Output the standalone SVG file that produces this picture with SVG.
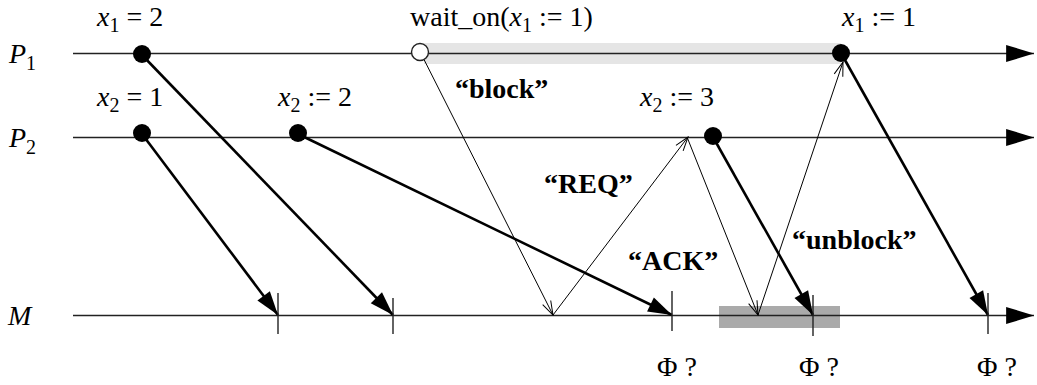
<svg xmlns="http://www.w3.org/2000/svg" width="1037" height="385" viewBox="0 0 1037 385">
  <style>
    .tl { stroke: #222; stroke-width: 1.4; fill: none; }
    .thick { stroke: #000; stroke-width: 2.6; fill: none; }
    .thin { stroke: #000; stroke-width: 1; fill: none; }
    .tick { stroke: #222; stroke-width: 1.4; }
    .dot { fill: #000; }
  </style>
  <defs>
    <marker id="axis" markerUnits="userSpaceOnUse" markerWidth="30" markerHeight="20" viewBox="-27 -9 28 18" refX="0" refY="0" orient="auto">
      <path d="M-26,-8 L0,0 L-26,8 Z" fill="#000"/>
    </marker>
    <marker id="filled" markerUnits="userSpaceOnUse" markerWidth="26" markerHeight="18" viewBox="-24 -8 25 16" refX="0" refY="0" orient="auto">
      <path d="M-23,-7.5 L0,0 L-23,7.5 Z" fill="#000"/>
    </marker>
    <marker id="open" markerUnits="userSpaceOnUse" markerWidth="18" markerHeight="12" viewBox="-16 -6 17 12" refX="0" refY="0" orient="auto">
      <path d="M-14,-4.5 L0,0 L-14,4.5" fill="none" stroke="#000" stroke-width="1"/>
    </marker>
  </defs>

  <g id="bands">
    <rect x="424" y="43" width="417" height="21" fill="#e5e5e5"/>
    <rect x="719" y="306" width="121" height="22" fill="#aaaaaa"/>
  </g>

  <g id="timelines">
    <g id="P1">
      <line class="tl" x1="73" y1="53.5" x2="1034" y2="53.5" marker-end="url(#axis)"/>
      <text x="9" y="63" font-family="Liberation Serif" font-size="28"><tspan font-style="italic">P</tspan><tspan font-size="20" dy="7">1</tspan></text>
    </g>
    <g id="P2">
      <line class="tl" x1="73" y1="137.5" x2="1034" y2="137.5" marker-end="url(#axis)"/>
      <text x="9" y="147" font-family="Liberation Serif" font-size="28"><tspan font-style="italic">P</tspan><tspan font-size="20" dy="7">2</tspan></text>
    </g>
    <g id="M">
      <line class="tl" x1="73" y1="315.5" x2="1034" y2="315.5" marker-end="url(#axis)"/>
      <text x="8" y="325" font-family="Liberation Serif" font-size="28" font-style="italic">M</text>
    </g>
  </g>

  <g id="connectors">
    <line class="thick" x1="142" y1="55" x2="393" y2="315" marker-end="url(#filled)"/>
    <line class="thick" x1="142" y1="134" x2="278" y2="315" marker-end="url(#filled)"/>
    <line class="thick" x1="298" y1="134" x2="672" y2="315" marker-end="url(#filled)"/>
    <line class="thick" x1="713" y1="137" x2="813" y2="315" marker-end="url(#filled)"/>
    <line class="thick" x1="841" y1="53" x2="988" y2="315" marker-end="url(#filled)"/>
    <line class="thin" x1="424" y1="59.5" x2="553" y2="315" marker-end="url(#open)"/>
    <line class="thin" x1="553" y1="315" x2="688" y2="137" marker-end="url(#open)"/>
    <line class="thin" x1="687" y1="137" x2="758" y2="315" marker-end="url(#open)"/>
    <line class="thin" x1="758" y1="315" x2="843" y2="62" marker-end="url(#open)"/>
  </g>

  <g id="ticks">
    <line class="tick" x1="278" y1="293" x2="278" y2="334"/>
    <line class="tick" x1="393" y1="298" x2="393" y2="334"/>
    <line class="tick" x1="672" y1="291" x2="672" y2="331"/>
    <line class="tick" x1="813" y1="295" x2="813" y2="336"/>
    <line class="tick" x1="988" y1="293" x2="988" y2="334"/>
  </g>

  <g id="ev-x1-2">
    <circle class="dot" cx="142" cy="54" r="9"/>
    <text x="97" y="26" font-family="Liberation Serif" font-size="28"><tspan font-style="italic">x</tspan><tspan font-size="20" dy="6">1</tspan><tspan dy="-6"> = 2</tspan></text>
  </g>
  <g id="ev-x2-1">
    <circle class="dot" cx="142" cy="133" r="9"/>
    <text x="97" y="106" font-family="Liberation Serif" font-size="28"><tspan font-style="italic">x</tspan><tspan font-size="20" dy="6">2</tspan><tspan dy="-6"> = 1</tspan></text>
  </g>
  <g id="ev-x2-2">
    <circle class="dot" cx="298" cy="133" r="9"/>
    <text x="278" y="106" font-family="Liberation Serif" font-size="28"><tspan font-style="italic">x</tspan><tspan font-size="20" dy="6">2</tspan><tspan dy="-6"> := 2</tspan></text>
  </g>
  <g id="ev-wait">
    <circle cx="420" cy="52" r="8.5" fill="#fff" stroke="#222" stroke-width="1.4"/>
    <text x="410" y="26" font-family="Liberation Serif" font-size="28">wait_on(<tspan font-style="italic">x</tspan><tspan font-size="20" dy="6">1</tspan><tspan dy="-6"> := 1)</tspan></text>
  </g>
  <g id="ev-x2-3">
    <circle class="dot" cx="713" cy="136" r="9"/>
    <text x="640" y="106" font-family="Liberation Serif" font-size="28"><tspan font-style="italic">x</tspan><tspan font-size="20" dy="6">2</tspan><tspan dy="-6"> := 3</tspan></text>
  </g>
  <g id="ev-x1-1">
    <circle class="dot" cx="841" cy="53" r="9"/>
    <text x="842" y="26" font-family="Liberation Serif" font-size="28"><tspan font-style="italic">x</tspan><tspan font-size="20" dy="6">1</tspan><tspan dy="-6"> := 1</tspan></text>
  </g>

  <g id="msg-labels">
    <text x="455" y="98" font-family="Liberation Serif" font-size="28" font-weight="bold">“block”</text>
    <text x="544" y="193" font-family="Liberation Serif" font-size="28" font-weight="bold">“REQ”</text>
    <text x="628" y="270" font-family="Liberation Serif" font-size="28" font-weight="bold">“ACK”</text>
    <text x="792" y="249" font-family="Liberation Serif" font-size="28" font-weight="bold">“unblock”</text>
  </g>

  <g id="phi-labels">
    <text x="657" y="376" font-family="Liberation Serif" font-size="28">Φ ?</text>
    <text x="799" y="376" font-family="Liberation Serif" font-size="28">Φ ?</text>
    <text x="977" y="376" font-family="Liberation Serif" font-size="28">Φ ?</text>
  </g>
</svg>
